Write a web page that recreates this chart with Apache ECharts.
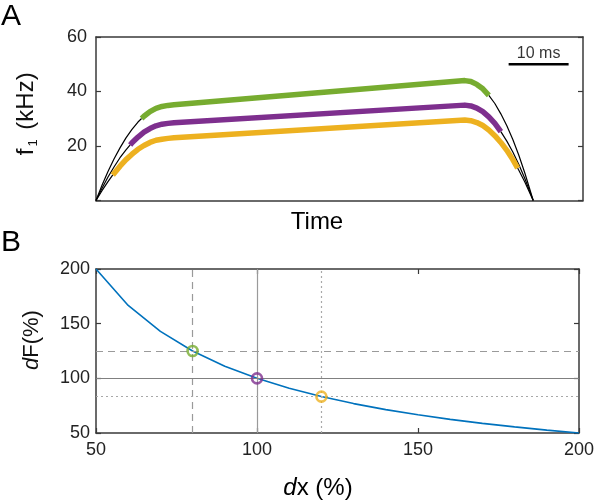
<!DOCTYPE html>
<html>
<head>
<meta charset="utf-8">
<script src="https://cdn.jsdelivr.net/npm/echarts@6/dist/echarts.min.js"></script>
<style>html,body{margin:0;padding:0;background:#fff;}#c{width:597px;height:502px;}</style>
</head>
<body>
<div id="c"></div>
<script>
// ---------- Panel A data (time in ms, f1 in kHz) ----------
var greenRise = [[0,0],[1,5.6],[2,10.6],[3,15.2],[4,19.3],[5,23.0],[6,26.1],[7,28.8],[7.6,30.1]];
var greenMain = [[7.6,30.1],[8,30.9],[9,32.6],[10,33.8],[11,34.5],[12,34.9],[13,35.1],[61.5,44.0],[62.5,43.7],[63.5,42.6],[64.5,41.0],[65.5,38.6]];
var greenFall = [[65.5,38.6],[66.5,35.6],[67.5,31.8],[68.5,27.4],[69.5,22.4],[70.5,16.6],[71.5,10.1],[72.9,0]];

var purpleRise = [[0,0],[1,4.5],[2,8.6],[3,12.3],[4,15.7],[5,18.6],[5.7,20.4]];
var purpleMain = [[5.7,20.4],[6,21.2],[7,23.3],[8,25.1],[9,26.4],[10,27.4],[11,28.0],[12,28.3],[13,28.5],[61.5,35.0],[62.5,34.7],[63.5,33.9],[64.5,32.6],[65.5,30.7],[66.5,28.3],[67.5,25.3]];
var purpleFall = [[67.5,25.3],[68.5,21.8],[69.5,17.8],[70.5,13.2],[71.5,8.1],[72.9,0]];

var orangeRise = [[0,0],[1,3.6],[2,6.9],[2.8,9.4]];
var orangeMain = [[2.8,9.4],[3,9.9],[4,12.6],[5,15.0],[6,17.0],[7,18.8],[8,20.2],[9,21.3],[10,22.1],[11,22.5],[12,22.8],[13,23.0],[61.5,29.5],[62.5,29.3],[63.5,28.6],[64.5,27.5],[65.5,25.9],[66.5,23.8],[67.5,21.3],[68.5,18.4],[69.5,15.0],[70.3,11.9]];
var orangeFall = [[70.3,11.9],[70.5,11.1],[71.5,6.8],[72.9,0]];

var scaleBarX = [68.8, 78.8];   // 10 ms
var scaleBarY = 50;
var fTicks = [0, 20, 40, 60];

// ---------- Panel B data ----------
var dxVals = [50,60,70,80,90,100,110,120,130,140,150,160,170,180,190,200];
var dfVals = [200,166.7,142.9,125,111.1,100,90.9,83.3,76.9,71.4,66.7,62.5,58.8,55.6,52.6,50];
var markerX = [80, 100, 120];
var markerY = [125, 100, 83.3];
var markerColors = ['#77AC30', '#7E2F8E', '#EDB120'];
var xTicksB = [50, 100, 150, 200];
var yTicksB = [50, 100, 150, 200];

var FONT = 'Liberation Sans, Arial, Helvetica, sans-serif';
var GREEN = '#77AC30', PURPLE = '#7E2F8E', ORANGE = '#EDB120', BLUE = '#0072BD';
var AX = '#3a3a3a';

function boxAxis(extra) {
  var base = {
    axisLine: {show: true, onZero: false, lineStyle: {color: AX, width: 1.5}},
    splitLine: {show: false},
    axisTick: {show: false},
    axisLabel: {show: false}
  };
  for (var k in extra) base[k] = extra[k];
  return base;
}

var chart = echarts.init(document.getElementById('c'), null, {renderer: 'canvas'});

function blackLine(data) {
  return {type: 'line', xAxisIndex: 0, yAxisIndex: 0, data: data, smooth: false, showSymbol: false,
    lineStyle: {color: '#000', width: 1.2}, z: 2, silent: true};
}
function colorLine(data, color) {
  return {type: 'line', xAxisIndex: 0, yAxisIndex: 0, data: data, smooth: false, showSymbol: false,
    lineStyle: {color: color, width: 5.5, cap: 'butt', join: 'round'}, z: 3, silent: true};
}

var refSpecs = [
  {type: [7, 5], color: '#9a9a9a'},
  {type: 'solid', color: '#9a9a9a'},
  {type: [2, 3], color: '#a8a8a8'}
];
var refHSpecs = [
  {type: [7, 5], color: '#9a9a9a'},
  {type: 'solid', color: '#808080'},
  {type: [2, 3], color: '#a8a8a8'}
];
var markLineData = [];
for (var i = 0; i < markerX.length; i++) {
  markLineData.push({xAxis: markerX[i], lineStyle: {type: refSpecs[i].type, color: refSpecs[i].color, width: 1.2}});
  markLineData.push({yAxis: markerY[i], lineStyle: {type: refHSpecs[i].type, color: refHSpecs[i].color, width: 1.2}});
}

var markerSeries = [];
for (var j = 0; j < markerX.length; j++) {
  markerSeries.push({
    type: 'scatter', xAxisIndex: 2, yAxisIndex: 2,
    data: [[markerX[j], markerY[j]]],
    symbol: 'circle', symbolSize: 10,
    itemStyle: {color: 'rgba(255,255,255,0)', borderColor: markerColors[j], borderWidth: 2.6},
    z: 5, silent: true
  });
}

var option = {
  animation: false,
  backgroundColor: '#fff',
  textStyle: {fontFamily: FONT},
  grid: [
    {left: 96, right: 14, top: 37, height: 163.5},
    {left: 96, right: 14, top: 269, height: 164}
  ],
  xAxis: [
    boxAxis({type: 'value', gridIndex: 0, min: 0, max: 81.2, position: 'bottom'}),
    boxAxis({type: 'value', gridIndex: 0, min: 0, max: 81.2, position: 'top'}),
    boxAxis({type: 'value', gridIndex: 1, min: 50, max: 200, interval: 50, position: 'bottom',
      axisTick: {show: true, inside: true, length: 5, lineStyle: {color: AX, width: 1.2}},
      axisLabel: {show: true, color: '#222', fontSize: 18, fontFamily: FONT, margin: 8,
        formatter: function (v) { return xTicksB.indexOf(v) >= 0 ? String(v) : ''; }}}),
    boxAxis({type: 'value', gridIndex: 1, min: 50, max: 200, interval: 50, position: 'top',
      axisTick: {show: true, inside: true, length: 5, lineStyle: {color: AX, width: 1.2}}})
  ],
  yAxis: [
    boxAxis({type: 'value', gridIndex: 0, min: 0, max: 60, interval: 20, position: 'left',
      axisTick: {show: true, inside: true, length: 5, lineStyle: {color: AX, width: 1.2}},
      axisLabel: {show: true, color: '#222', fontSize: 18, fontFamily: FONT, margin: 9,
        formatter: function (v) { return (v === 0 || fTicks.indexOf(v) < 0) ? '' : String(v); }},
      name: '{n|f}{s|1}{n| (kHz)}', nameLocation: 'middle', nameRotate: 90, nameGap: 56,
      nameTextStyle: {fontFamily: FONT, color: '#111', padding: [0, 0, 0, 10], rich: {
        n: {fontSize: 24, fontFamily: FONT, color: '#111'},
        s: {fontSize: 13, fontFamily: FONT, color: '#111', padding: [14, 3, 0, 2]}
      }}}),
    boxAxis({type: 'value', gridIndex: 0, min: 0, max: 60, interval: 20, position: 'right',
      axisTick: {show: true, inside: true, length: 5, lineStyle: {color: AX, width: 1.2}}}),
    boxAxis({type: 'value', gridIndex: 1, min: 50, max: 200, interval: 50, position: 'left',
      axisTick: {show: true, inside: true, length: 5, lineStyle: {color: AX, width: 1.2}},
      axisLabel: {show: true, color: '#222', fontSize: 18, fontFamily: FONT, margin: 6,
        formatter: function (v) { return yTicksB.indexOf(v) >= 0 ? String(v) : ''; }},
      name: '{i|d}{n|F(%)}', nameLocation: 'middle', nameRotate: 90, nameGap: 53,
      nameTextStyle: {fontFamily: FONT, color: '#111', padding: [0, 0, 0, 22], rich: {
        i: {fontSize: 22, fontFamily: FONT, fontStyle: 'italic', color: '#111'},
        n: {fontSize: 22, fontFamily: FONT, color: '#111'}
      }}}),
    boxAxis({type: 'value', gridIndex: 1, min: 50, max: 200, interval: 50, position: 'right',
      axisTick: {show: true, inside: true, length: 5, lineStyle: {color: AX, width: 1.2}}})
  ],
  graphic: [
    {type: 'text', left: 1, top: 2, style: {text: 'A', font: '30px ' + FONT, fill: '#000'}},
    {type: 'text', left: 1, top: 228, style: {text: 'B', font: '30px ' + FONT, fill: '#000'}},
    {type: 'text', x: 317, y: 222, style: {text: 'Time', font: '24px ' + FONT, fill: '#000', textAlign: 'center', textVerticalAlign: 'middle'}},
    {type: 'text', x: 318, y: 488, style: {
      text: '{i|d}{n|x (%)}', textAlign: 'center', textVerticalAlign: 'middle',
      rich: {i: {font: 'italic 24px ' + FONT, fill: '#000'}, n: {font: '24px ' + FONT, fill: '#000'}}}}
  ],
  series: [
    blackLine(greenRise), blackLine(greenFall),
    blackLine(purpleRise), blackLine(purpleFall),
    blackLine(orangeRise), blackLine(orangeFall),
    colorLine(orangeMain, ORANGE),
    colorLine(purpleMain, PURPLE),
    colorLine(greenMain, GREEN),
    {type: 'line', xAxisIndex: 0, yAxisIndex: 0,
      data: [[scaleBarX[0], scaleBarY], [scaleBarX[1], scaleBarY]],
      showSymbol: false, lineStyle: {color: '#000', width: 2.5}, silent: true},
    {type: 'scatter', xAxisIndex: 0, yAxisIndex: 0,
      data: [[(scaleBarX[0] + scaleBarX[1]) / 2, scaleBarY]], symbolSize: 0,
      label: {show: true, position: 'top', distance: 3, formatter: '10 ms', color: '#000', fontSize: 16, fontFamily: FONT},
      silent: true},
    {type: 'line', xAxisIndex: 2, yAxisIndex: 2,
      data: dxVals.map(function (d, k) { return [d, dfVals[k]]; }),
      showSymbol: false, lineStyle: {color: BLUE, width: 1.6}, z: 4, silent: true,
      markLine: {silent: true, symbol: ['none', 'none'], label: {show: false}, animation: false,
        emphasis: {disabled: true}, data: markLineData}}
  ].concat(markerSeries)
};
chart.setOption(option);
</script>
</body>
</html>
